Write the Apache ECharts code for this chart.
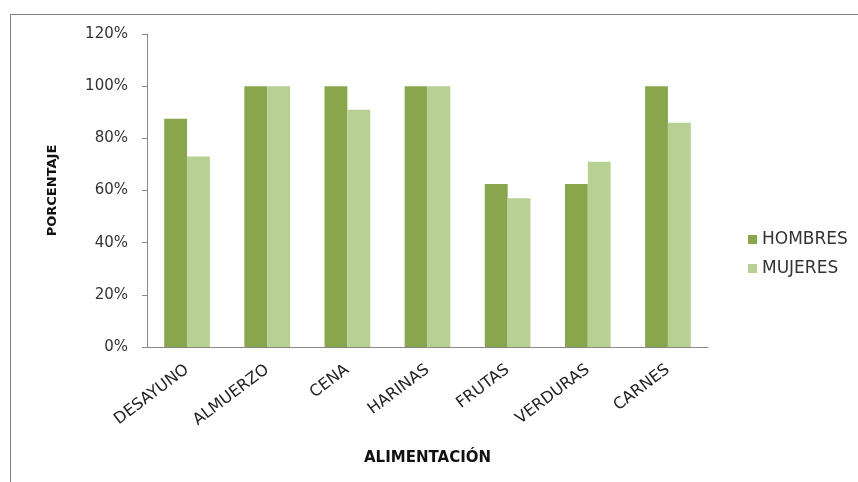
<!DOCTYPE html>
<html><head><meta charset="utf-8">
<script src="https://cdn.jsdelivr.net/npm/echarts@6/dist/echarts.min.js"></script>
<style>html,body{margin:0;padding:0;background:#fff}#c{width:858px;height:482px}</style>
</head><body><div id="c"></div>
<script>
const categories = ['DESAYUNO','ALMUERZO','CENA','HARINAS','FRUTAS','VERDURAS','CARNES'];
const hombres = [87.5, 100, 100, 100, 62.5, 62.5, 100];
const mujeres = [73, 100, 91, 100, 57, 71, 86];
const seriesNames = ['HOMBRES','MUJERES'];
const yTicks = [0,20,40,60,80,100,120];

const FONT = '"DejaVu Sans", "Open Sans", sans-serif';
const chart = echarts.init(document.getElementById('c'));
chart.setOption({
  animation: false,
  backgroundColor: '#fff',
  graphic: [{
    type: 'rect', shape: {x: 10.5, y: 14.5, width: 900, height: 600},
    style: {fill: 'none', stroke: '#7f7f7f', lineWidth: 1}, silent: true
  }],
  grid: {left: 147, right: 150, top: 34, bottom: 135, containLabel: false},
  legend: {
    orient: 'vertical', left: 743, top: 226, itemWidth: 9, itemHeight: 9, itemGap: 12,
    icon: 'rect',
    textStyle: {fontFamily: FONT, fontSize: 17, color: '#333'},
    data: seriesNames
  },
  xAxis: {
    type: 'category', data: categories,
    name: 'ALIMENTACIÓN', nameLocation: 'middle', nameGap: 104,
    nameTextStyle: {fontFamily: FONT, fontSize: 15, fontWeight: 'bold', color: '#111'},
    axisLine: {lineStyle: {color: '#888'}},
    axisTick: {show: false},
    axisLabel: {rotate: 37, fontFamily: FONT, fontSize: 16, color: '#222', margin: 21}
  },
  yAxis: {
    type: 'value', min: 0, max: 120, interval: 20,
    name: 'PORCENTAJE', nameLocation: 'middle', nameGap: 88,
    nameTextStyle: {fontFamily: FONT, fontSize: 13, fontWeight: 'bold', color: '#111'},
    axisLine: {show: true, lineStyle: {color: '#888'}},
    axisTick: {show: true, length: 5, inside: false, lineStyle: {color: '#888'}},
    splitLine: {show: false},
    axisLabel: {fontFamily: FONT, fontSize: 15, color: '#333', margin: 19,
      formatter: v => yTicks.includes(v) ? v + '%' : ''}
  },
  series: [
    {name: seriesNames[0], type: 'bar', data: hombres, barGap: '0%', barCategoryGap: '43%',
     itemStyle: {color: '#8aa64d'}},
    {name: seriesNames[1], type: 'bar', data: mujeres,
     itemStyle: {color: '#b9d095'}}
  ]
});
</script></body></html>
